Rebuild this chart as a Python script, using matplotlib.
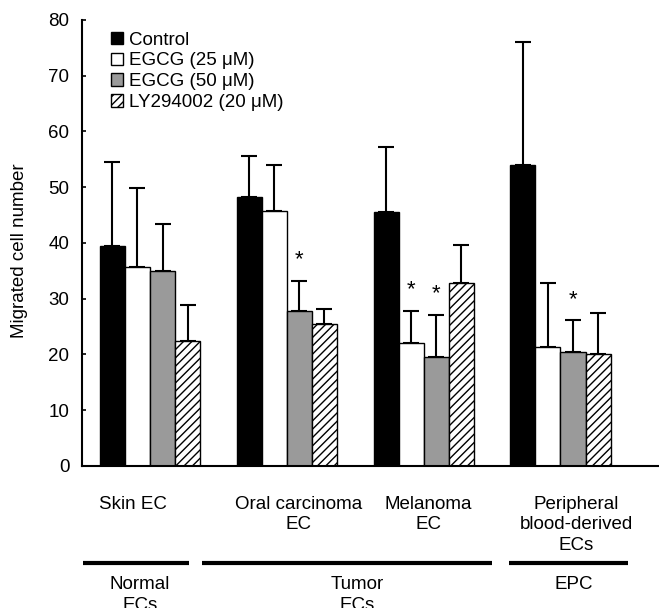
import matplotlib.pyplot as plt
from matplotlib.patches import Patch
import numpy as np

plt.rcParams['font.family'] = ['Liberation Sans', 'DejaVu Sans']
plt.rcParams['hatch.linewidth'] = 1.0

# Data (mean and upper SD)
cell_types = ['Skin EC', 'Oral carcinoma\nEC', 'Melanoma\nEC', 'Peripheral\nblood-derived\nECs']
series_names = ['Control', 'EGCG (25 μM)', 'EGCG (50 μM)', 'LY294002 (20 μM)']
control = [39.5, 48.3, 45.6, 54.0]
control_sd = [15.0, 7.3, 11.7, 22.1]
egcg25 = [35.6, 45.7, 22.0, 21.4]
egcg25_sd = [14.2, 8.2, 5.8, 11.5]
egcg50 = [35.0, 27.8, 19.6, 20.4]
egcg50_sd = [8.4, 5.4, 7.5, 5.7]
ly = [22.4, 25.5, 32.9, 20.0]
ly_sd = [6.5, 2.7, 6.7, 7.5]
# (cell type index, series index) pairs marked with *
significant = [(1, 2), (2, 1), (2, 2), (3, 2)]
# group brackets below the axis
group_names = ['Normal\nECs', 'Tumor\nECs', 'EPC']

means = [control, egcg25, egcg50, ly]
sds = [control_sd, egcg25_sd, egcg50_sd, ly_sd]
facecolors = ['black', 'white', '#9a9a9a', 'white']
hatches = [None, None, None, '////']

fig = plt.figure(figsize=(6.59, 6.08), dpi=100)
ax = fig.add_axes([0.1244, 0.2336, 0.8756, 0.7336])

x = np.arange(len(cell_types))
w = 0.183
for i in range(4):
    xs = x + (i - 1.5) * w
    ax.bar(xs, means[i], width=w, color=facecolors[i], edgecolor='black',
           linewidth=1.0, hatch=hatches[i], zorder=2)
    ax.errorbar(xs, means[i], yerr=[np.zeros(len(x)), sds[i]], fmt='none',
                ecolor='black', elinewidth=1.5, capsize=6, capthick=1.5, zorder=1)

for g, s in significant:
    top = means[s][g] + sds[s][g]
    ax.text(x[g] + (s - 1.5) * w, top + 2.8, '*', ha='center', va='baseline',
            fontsize=16)

ax.set_xlim(-0.497, 3.72)
ax.set_ylim(0, 80)
ax.set_yticks(range(0, 81, 10))
ax.set_xticks([])
ax.tick_params(axis='y', direction='in', length=3, width=1.2, labelsize=13.5, pad=9)
for side in ['top', 'right']:
    ax.spines[side].set_visible(False)
ax.spines['left'].set_linewidth(1.5)
ax.spines['bottom'].set_linewidth(1.5)
ax.set_ylabel('Migrated cell number', fontsize=13.5)
ax.yaxis.set_label_coords(-0.093, 0.482)

# category labels under the axis
label_x = [-0.124, 1.083, 2.034, 3.116]
for lx, name in zip(label_x, cell_types):
    ax.text(lx, -5.3, name, ha='center', va='top', fontsize=13.5,
            linespacing=1.3, clip_on=False)

# group lines and names
line_spans = [(-0.490, 0.285), (0.380, 2.502), (2.626, 3.497)]
group_x = [-0.073, 1.514, 3.094]
for (x0, x1), gx, gname in zip(line_spans, group_x, group_names):
    ax.plot([x0, x1], [-17.4, -17.4], color='black', linewidth=3,
            solid_capstyle='butt', clip_on=False)
    ax.text(gx, -19.8, gname, ha='center', va='top', fontsize=13.5,
            linespacing=1.3, clip_on=False)

handles = [Patch(facecolor=facecolors[i], edgecolor='black', hatch=hatches[i],
                 linewidth=1.0) for i in range(4)]
fig.legend(handles, series_names, loc='upper left', bbox_to_anchor=(0.168, 0.948),
           frameon=False, fontsize=13.5, handlelength=0.65, handleheight=0.65,
           handletextpad=0.3, labelspacing=0.2, borderpad=0, borderaxespad=0)

plt.savefig('out.png', dpi=100)
